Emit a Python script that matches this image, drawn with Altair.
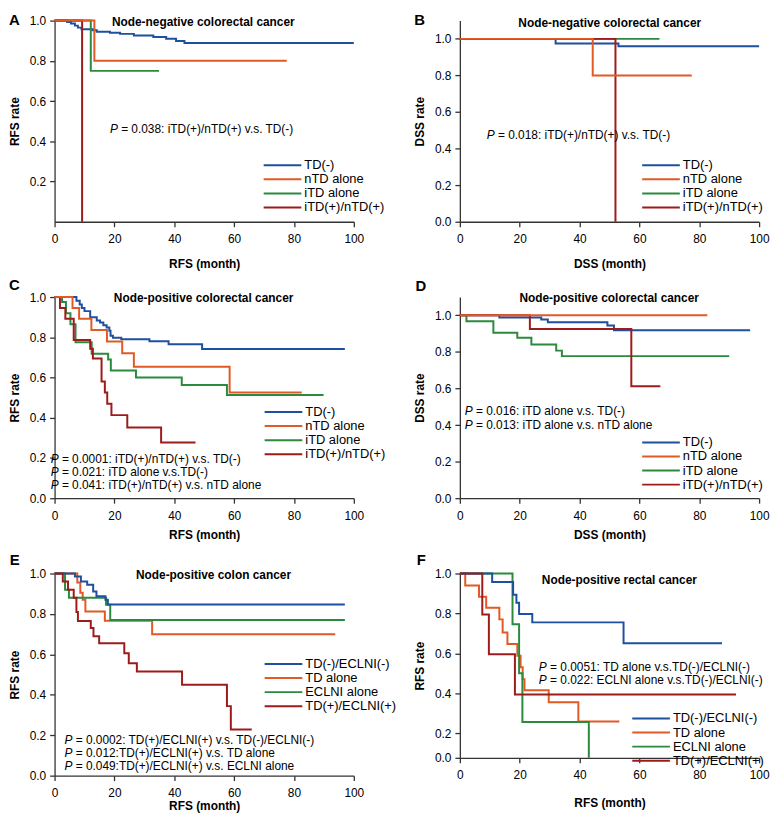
import altair as alt
import pandas as pd

# ---------------- labels / colours ----------------
LABELS_TD = ["TD(-)", "nTD alone", "iTD alone", "iTD(+)/nTD(+)"]
LABELS_EC = ["TD(-)/ECLNI(-)", "TD alone", "ECLNI alone", "TD(+)/ECLNI(+)"]
COLORS = ["#1f4f9f", "#e15a25", "#2b8a3e", "#9e1b1b"]
X_TICKS = [0, 20, 40, 60, 80, 100]
Y_TICKS_A = [0.2, 0.4, 0.6, 0.8, 1.0]
Y_TICKS = [0.0, 0.2, 0.4, 0.6, 0.8, 1.0]

# ---------------- Panel A: node-negative, RFS ----------------
A_tdneg_t = [0, 4.2, 5.5, 6.8, 7.8, 9.0, 12.8, 14.1, 18.5, 21.9, 26.5, 33.0, 37.3, 40.6, 43.4, 100]
A_tdneg_s = [1.0, 0.993, 0.985, 0.975, 0.965, 0.957, 0.952, 0.945, 0.94, 0.934, 0.926, 0.918, 0.91, 0.899, 0.889, 0.889]
A_ntd_t = [0, 13.3, 77.6]
A_ntd_s = [1.0, 0.8, 0.8]
A_itd_t = [0, 12.1, 34.9]
A_itd_s = [1.0, 0.75, 0.75]
A_both_t = [0, 9.2]
A_both_s = [1.0, 0.0]

# ---------------- Panel B: node-negative, DSS ----------------
B_tdneg_t = [0, 32.0, 53.0, 100]
B_tdneg_s = [1.0, 0.975, 0.96, 0.96]
B_ntd_t = [0, 44.4, 77.5]
B_ntd_s = [1.0, 0.8, 0.8]
B_itd_t = [0, 66.7]
B_itd_s = [1.0, 1.0]
B_both_t = [0, 52.0]
B_both_s = [1.0, 0.0]

# ---------------- Panel C: node-positive, RFS ----------------
C_tdneg_t = [0, 7.3, 8.4, 9.1, 10.0, 11.9, 14.1, 15.2, 16.3, 17.4, 18.3, 18.7, 19.5, 22.3, 31.7, 38.1, 49.3, 97]
C_tdneg_s = [1.0, 0.982, 0.963, 0.946, 0.93, 0.90, 0.884, 0.873, 0.86, 0.849, 0.832, 0.808, 0.798, 0.79, 0.78, 0.765, 0.742, 0.742]
C_ntd_t = [0, 6.0, 8.2, 12.3, 17.5, 22.6, 26.5, 58.5, 82.6]
C_ntd_s = [1.0, 0.946, 0.892, 0.836, 0.779, 0.721, 0.654, 0.525, 0.525]
C_itd_t = [0, 2.5, 3.8, 5.3, 7.0, 12.4, 17.9, 18.8, 27.2, 42.5, 57.6, 89.9]
C_itd_s = [1.0, 0.975, 0.92, 0.865, 0.775, 0.718, 0.69, 0.635, 0.60, 0.563, 0.513, 0.513]
C_both_t = [0, 1.8, 3.6, 6.4, 11.9, 12.8, 15.7, 16.8, 17.6, 19.0, 24.3, 35.6, 47.1]
C_both_s = [1.0, 0.946, 0.892, 0.787, 0.743, 0.694, 0.58, 0.525, 0.47, 0.413, 0.351, 0.277, 0.277]

# ---------------- Panel D: node-positive, DSS ----------------
D_tdneg_t = [0, 13.2, 27.2, 29.4, 49.3, 51.5, 97]
D_tdneg_s = [1.0, 0.988, 0.977, 0.962, 0.944, 0.919, 0.919]
D_ntd_t = [0, 82.7]
D_ntd_s = [1.0, 1.0]
D_itd_t = [0, 2.2, 11.2, 19.2, 23.9, 32.2, 34.1, 90]
D_itd_s = [1.0, 0.968, 0.905, 0.877, 0.841, 0.807, 0.777, 0.777]
D_both_t = [0, 23.4, 57.3, 67]
D_both_s = [1.0, 0.925, 0.612, 0.612]

# ---------------- Panel E: node-positive colon, RFS ----------------
E_neg_t = [0, 6.8, 8.8, 10.9, 12.9, 14.0, 17.0, 17.8, 97]
E_neg_s = [1.0, 0.985, 0.961, 0.944, 0.911, 0.887, 0.87, 0.847, 0.847]
E_td_t = [0, 7.6, 8.6, 9.4, 10.3, 16.8, 32.6, 93.8]
E_td_s = [1.0, 0.955, 0.905, 0.87, 0.812, 0.766, 0.70, 0.70]
E_ec_t = [0, 3.5, 4.8, 17.2, 18.6, 97]
E_ec_s = [1.0, 0.92, 0.88, 0.845, 0.77, 0.77]
E_both_t = [0, 2.75, 4.5, 6.4, 7.3, 7.8, 12.1, 13.0, 14.9, 23.3, 24.8, 27.5, 42.6, 57.6, 58.9, 65.9]
E_both_s = [1.0, 0.96, 0.92, 0.88, 0.81, 0.765, 0.73, 0.69, 0.655, 0.605, 0.556, 0.515, 0.45, 0.344, 0.228, 0.228]

# ---------------- Panel F: node-positive rectal, RFS ----------------
F_neg_t = [0, 10.8, 17.8, 18.9, 19.8, 24.2, 54.7, 87.6]
F_neg_s = [1.0, 0.957, 0.894, 0.853, 0.797, 0.755, 0.65, 0.65]
F_td_t = [0, 1.8, 6.4, 8.8, 13.2, 14.3, 15.9, 19.2, 20.3, 21.0, 21.6, 29.7, 39.6, 53.3]
F_td_s = [1.0, 0.94, 0.883, 0.828, 0.77, 0.704, 0.646, 0.588, 0.53, 0.47, 0.415, 0.354, 0.258, 0.258]
F_ec_t = [0, 17.6, 19.8, 20.9, 43.1]
F_ec_s = [1.0, 0.745, 0.50, 0.255, 0.0]
F_both_t = [0, 7.5, 9.7, 18.4, 92.3]
F_both_s = [1.0, 0.795, 0.595, 0.393, 0.393]

# ---------------- text ----------------
HEAD_NEG = "Node-negative colorectal cancer"
HEAD_POS = "Node-positive colorectal cancer"
HEAD_COLON = "Node-positive colon cancer"
HEAD_RECTAL = "Node-positive rectal cancer"
NOTES_A = ["= 0.038: iTD(+)/nTD(+) v.s. TD(-)"]
NOTES_B = ["= 0.018: iTD(+)/nTD(+) v.s. TD(-)"]
NOTES_C = ["= 0.0001: iTD(+)/nTD(+) v.s. TD(-)", "= 0.021: iTD alone v.s.TD(-)",
           "= 0.041: iTD(+)/nTD(+) v.s. nTD alone"]
NOTES_D = ["= 0.016: iTD alone v.s. TD(-)", "= 0.013: iTD alone v.s. nTD alone"]
NOTES_E = ["= 0.0002: TD(+)/ECLNI(+) v.s. TD(-)/ECLNI(-)", "= 0.012:TD(+)/ECLNI(+) v.s. TD alone",
           "= 0.049:TD(+)/ECLNI(+) v.s. ECLNI alone"]
NOTES_F = ["= 0.0051: TD alone v.s.TD(-)/ECLNI(-)", "= 0.022: ECLNI alone v.s.TD(-)/ECLNI(-)"]

FONT = "Liberation Sans"
W = 302
LEG_STEP = 14.2   # px between legend rows
LEG_LEN = 38      # px length of legend line
LEG_GAP = 3       # px between line and label


def panel(series, labels, order, xtitle, ytitle, yscale, yvals, h, yinv,
          head, head_at, letter, letter_at, notes, notes_x, notes_y,
          legend_at, xt_pad):
    xscale = alt.Scale(domain=[0, 100], nice=False, zero=False)
    xaxis = alt.Axis(values=X_TICKS, format="d", title=xtitle, titlePadding=xt_pad,
                     labelPadding=7)
    yaxis = alt.Axis(values=yvals, format=".1f", title=ytitle, titlePadding=8)
    X = alt.X("t:Q", scale=xscale, axis=xaxis)
    Y = alt.Y("s:Q", scale=yscale, axis=yaxis)
    color = alt.Color("series:N", scale=alt.Scale(domain=labels, range=COLORS), legend=None)
    layers = []
    for i in order:
        t, s = series[i]
        df = pd.DataFrame({"t": t, "s": s, "series": labels[i]})
        layers.append(alt.Chart(df).mark_line(interpolate="step-after", strokeWidth=2)
                      .encode(x=X, y=Y, color=color))
    # legend drawn in data space
    px0, py0 = legend_at
    leg = pd.DataFrame({
        "series": labels,
        "t": [px0 / W * 100] * 4,
        "t2": [(px0 + LEG_LEN) / W * 100] * 4,
        "tt": [(px0 + LEG_LEN + LEG_GAP) / W * 100] * 4,
        "s": [yinv(py0 + k * LEG_STEP) for k in range(4)],
    })
    layers.append(alt.Chart(leg).mark_rule(strokeWidth=2)
                  .encode(x=X, x2="t2:Q", y=Y, color=color))
    layers.append(alt.Chart(leg).mark_text(fontSize=13, align="left", baseline="middle",
                                           color="black")
                  .encode(x=alt.X("tt:Q", scale=xscale, axis=xaxis), y=Y, text="series:N"))
    hd = pd.DataFrame({"t": [head_at[0]], "s": [head_at[1]], "label": [head]})
    layers.append(alt.Chart(hd).mark_text(fontWeight="bold", fontSize=12, align="center",
                                          baseline="middle", color="black")
                  .encode(x=X, y=Y, text="label:N"))
    lt = pd.DataFrame({"t": [letter_at[0]], "s": [letter_at[1]], "label": [letter]})
    layers.append(alt.Chart(lt).mark_text(fontWeight="bold", fontSize=15, align="left",
                                          baseline="middle", color="black")
                  .encode(x=X, y=Y, text="label:N"))
    nt = pd.DataFrame({"t": [notes_x] * len(notes), "s": notes_y, "label": notes,
                       "p": ["P"] * len(notes)})
    layers.append(alt.Chart(nt).mark_text(fontStyle="italic", fontSize=12, align="left",
                                          baseline="middle", color="black")
                  .encode(x=X, y=Y, text="p:N"))
    layers.append(alt.Chart(nt).mark_text(fontSize=12, align="left", baseline="middle",
                                          color="black", dx=11.3)
                  .encode(x=X, y=Y, text="label:N"))
    return alt.layer(*layers).properties(width=W, height=h)


lin01 = alt.Scale(domain=[0, 1.0], nice=False, zero=False)
lin011 = alt.Scale(domain=[0, 1.1], nice=False, zero=False)
piece = alt.Scale(domain=[0, 0.2, 1.0], range=[186, 161, 0], nice=False, zero=False)


def inv01(h):
    return lambda p: 1.0 - p / h


def inv011(h):
    return lambda p: 1.1 * (1.0 - p / h)


def inv_piece(p):
    return 1.0 - p / 201.25 if p <= 161 else 0.2 * (186 - p) / 25.0


ORDER_TD = [0, 2, 3, 1]
ORDER_EC = [1, 2, 0, 3]

pA = panel([(A_tdneg_t, A_tdneg_s), (A_ntd_t, A_ntd_s), (A_itd_t, A_itd_s), (A_both_t, A_both_s)],
           LABELS_TD, ORDER_TD, "RFS (month)", "RFS rate", lin01, Y_TICKS_A, 203, inv01(203),
           HEAD_NEG, (49.7, 0.995), "A", (-15.2, 1.005), NOTES_A, 18.5, [0.462],
           (211, 146), 14)
pB = panel([(B_tdneg_t, B_tdneg_s), (B_ntd_t, B_ntd_s), (B_itd_t, B_itd_s), (B_both_t, B_both_s)],
           LABELS_TD, ORDER_TD, "DSS (month)", "DSS rate", lin011, Y_TICKS, 203, inv011(203),
           HEAD_NEG, (50.1, 1.086), "B", (-15.2, 1.105), NOTES_B, 9.0, [0.474],
           (184, 146), 14)
pC = panel([(C_tdneg_t, C_tdneg_s), (C_ntd_t, C_ntd_s), (C_itd_t, C_itd_s), (C_both_t, C_both_s)],
           LABELS_TD, ORDER_TD, "RFS (month)", "RFS rate", lin01, Y_TICKS, 203, inv01(203),
           HEAD_POS, (49.8, 0.995), "C", (-15.2, 1.062), NOTES_C, -1.3, [0.195, 0.13, 0.064],
           (212, 116), 9)
pD = panel([(D_tdneg_t, D_tdneg_s), (D_ntd_t, D_ntd_s), (D_itd_t, D_itd_s), (D_both_t, D_both_s)],
           LABELS_TD, ORDER_TD, "DSS (month)", "DSS rate", lin011, Y_TICKS, 203, inv011(203),
           HEAD_POS, (49.9, 1.097), "D", (-14.8, 1.162), NOTES_D, 1.65, [0.475, 0.40],
           (184, 146.7), 9)
pE = panel([(E_neg_t, E_neg_s), (E_td_t, E_td_s), (E_ec_t, E_ec_s), (E_both_t, E_both_s)],
           LABELS_EC, ORDER_EC, "RFS (month)", "RFS rate", lin01, Y_TICKS, 204, inv01(204),
           HEAD_COLON, (53.1, 0.994), "E", (-15.0, 1.069), NOTES_E, 3.3, [0.176, 0.111, 0.046],
           (212, 91.3), 2)
pF = panel([(F_neg_t, F_neg_s), (F_td_t, F_td_s), (F_ec_t, F_ec_s), (F_both_t, F_both_s)],
           LABELS_EC, ORDER_EC, "RFS (month)", "RFS rate", piece, Y_TICKS, 186, inv_piece,
           HEAD_RECTAL, (53.3, 0.969), "F", (-14.4, 1.07), NOTES_F, 26.4, [0.533, 0.467],
           (174, 146.3), 17)

chart = (
    alt.concat(pA, pB, pC, pD, pE, pF, columns=2,
               spacing={"row": 76, "column": 107}, bounds="flush")
    .resolve_scale(color="independent")
    .properties(padding={"left": 0, "top": 0, "right": 0, "bottom": 0}, background="white")
    .configure(font=FONT)
    .configure_view(stroke=None)
    .configure_axis(grid=False, domainColor="#333333", tickColor="#333333", domainWidth=1.3,
                    tickWidth=1.3, tickSize=5, labelPadding=4, labelFontSize=12,
                    titleFontSize=12, titleFontWeight="bold", labelColor="black",
                    titleColor="black", labelFont=FONT, titleFont=FONT,
                    labelFlush=False, labelOverlap=False)
)

chart.save("out.html", embed_options={"renderer": "svg", "actions": False})
